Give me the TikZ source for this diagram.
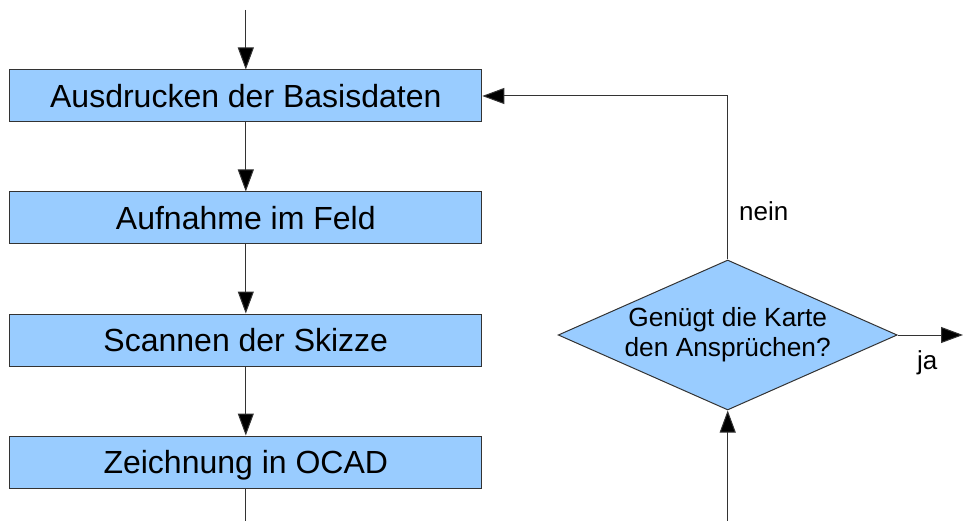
\documentclass[tikz,border=0pt]{standalone}
\usepackage{fontspec}
\setmainfont{Liberation Sans}
\usetikzlibrary{shapes.geometric,arrows.meta}
\definecolor{boxfill}{HTML}{99CCFF}
\definecolor{edgecol}{HTML}{333333}
\begin{document}
\begin{tikzpicture}[x=1pt,y=-1pt,
  stepbox/.style={draw=edgecol,line width=1pt,fill=boxfill,minimum width=472pt,minimum height=52pt,inner sep=0pt,text height=23pt,text depth=0pt,font=\fontsize{32}{38}\selectfont},
  decbox/.style={diamond,aspect=2.26,draw=edgecol,line width=1pt,fill=boxfill,minimum width=339pt,minimum height=150pt,inner sep=0pt,align=center,font=\fontsize{26.3}{30}\selectfont},
  arr/.style={draw=edgecol,line width=1pt,-{Triangle[length=22pt,width=16pt,fill=black]}},
  lab/.style={font=\fontsize{26}{30}\selectfont,inner sep=0pt,anchor=base west}]
\useasboundingbox (0,0) rectangle (963,521);
\node[stepbox] (b1) at (245.8,96) {Ausdrucken der Basisdaten};
\node[stepbox] (b2) at (245.8,218) {Aufnahme im Feld};
\node[stepbox] (b3) at (245.8,340) {Scannen der Skizze};
\node[stepbox] (b4) at (245.8,462) {Zeichnung in OCAD};
\node[decbox] (dec) at (727.7,335) {Genügt die Karte\\den Ansprüchen?};
\coordinate (top) at (245.8,10);
\coordinate (bot) at (245.8,521);
\coordinate (decin) at (727.7,521);
\coordinate (out) at (963,335);
\draw[arr] (top) -- (b1.north);
\draw[arr] (b1.south) -- (b2.north);
\draw[arr] (b2.south) -- (b3.north);
\draw[arr] (b3.south) -- (b4.north);
\draw[draw=edgecol,line width=1pt] (b4.south) -- (bot);
\draw[arr] (decin) -- (dec.south);
\draw[arr] (dec.north) |- (b1.east);
\draw[arr] (dec.east) -- (out);
\node[lab] (nein) at (739,221) {nein};
\node[lab] (ja) at (917,369) {ja};
\end{tikzpicture}
\end{document}
